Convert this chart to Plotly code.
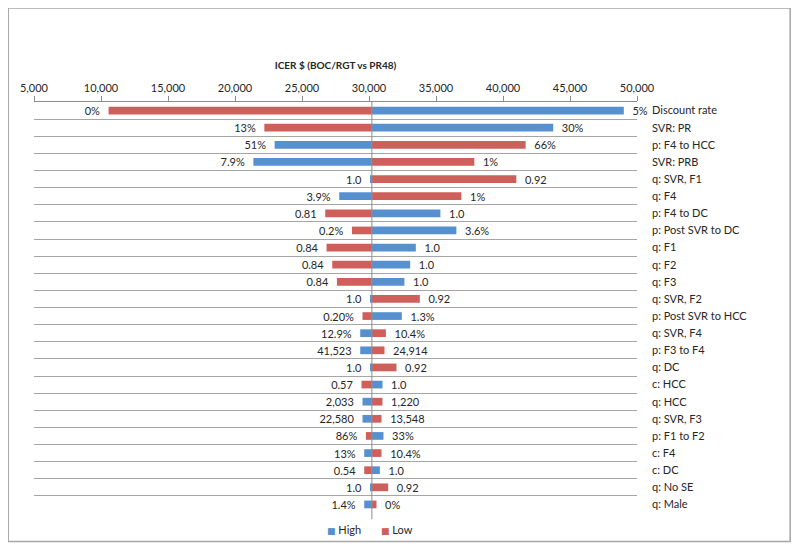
import numpy as np
import plotly.graph_objects as go

# base-case ICER, where the bars start
BASE = 30216

categories = ["Discount rate", "SVR: PR", "p: F4 to HCC", "SVR: PRB", "q: SVR, F1", "q: F4",
              "p: F4 to DC", "p: Post SVR to DC", "q: F1", "q: F2", "q: F3", "q: SVR, F2",
              "p: Post SVR to HCC", "q: SVR, F4", "p: F3 to F4", "q: DC", "c: HCC", "q: HCC",
              "q: SVR, F3", "p: F1 to F2", "c: F4", "c: DC", "q: No SE", "q: Male"]

high_icer = [49016, 43748, 22958, 21371, 30090, 27779, 35328, 36520, 33495, 33070, 32645, 30090,
             32451, 29345, 29345, 30090, 31006, 29516, 29516, 31081, 29643, 30812, 30090, 29643]
low_icer = [10566, 22190, 41690, 37861, 40991, 36893, 26736, 28726, 26833, 27258, 27607, 33793,
            29516, 31259, 31155, 32049, 29441, 31006, 30932, 29769, 30932, 29643, 31431, 30559]

high_labels = ["5%", "30%", "51%", "7.9%", "1.0", "3.9%", "1.0", "3.6%", "1.0", "1.0", "1.0", "1.0",
               "1.3%", "12.9%", "41,523", "1.0", "1.0", "2,033", "22,580", "33%", "13%", "1.0",
               "1.0", "1.4%"]
low_labels = ["0%", "13%", "66%", "1%", "0.92", "1%", "0.81", "0.2%", "0.84", "0.84", "0.84", "0.92",
              "0.20%", "10.4%", "24,914", "0.92", "0.57", "1,220", "13,548", "86%", "10.4%", "0.54",
              "0.92", "0%"]

x_ticks = list(range(5000, 50001, 5000))

BLUE = "#5790cf"
RED = "#cf5f5b"
FONT = dict(family="Lato, 'Open Sans', sans-serif", size=11, color="#262626")

fig = go.Figure()
series = [("High", high_icer, high_labels, BLUE), ("Low", low_icer, low_labels, RED)]
for name, vals, labels, color in series:
    fig.add_trace(go.Bar(
        name=name, y=categories, x=np.array(vals) - BASE, base=BASE, orientation="h",
        marker=dict(color=color, line=dict(width=0)),
        text=labels, texttemplate="\u00a0\u00a0%{text}\u00a0\u00a0", textposition="outside",
        constraintext="none", cliponaxis=False, textfont=FONT,
        showlegend=False, hoverinfo="skip"))

# legend drawn as small squares + names, Excel style
for (name, _, _, color), lx in zip(series, [0.482, 0.572]):
    fig.add_annotation(xref="paper", yref="paper", x=lx, y=-0.04, xanchor="left", yanchor="middle",
                       showarrow=False, font=FONT,
                       text=f"<span style='color:{color};font-family:DejaVu Sans;font-size:9px'>\u25a0</span> {name}")

# axis line at the base value
fig.add_shape(type="line", xref="x", yref="paper", x0=BASE, x1=BASE, y0=-0.015, y1=1,
              line=dict(color="#8c8c8c", width=1))
# chart frame
fig.add_shape(type="rect", xref="paper", yref="paper", x0=-0.0428, x1=1.254, y0=-0.0696, y1=1.2288,
              line=dict(color="#a6a6a6", width=1.5), layer="below")

# page body has an 8px margin, so the figure is a bit smaller than the window
fig.update_layout(
    width=792, height=541,
    margin=dict(l=26, r=163, t=94, b=36),
    paper_bgcolor="white", plot_bgcolor="white",
    barmode="overlay", bargap=0.55,
    font=FONT, showlegend=False,
    xaxis=dict(side="top", range=[5000, 50000], tickvals=x_ticks, tickformat=",d", automargin=False,
               showgrid=False, zeroline=False, showline=True, linecolor="#8c8c8c",
               ticks="outside", ticklen=5, tickcolor="#8c8c8c",
               title=dict(text="<b>ICER $ (BOC/RGT vs PR48)</b>", standoff=9,
                          font=dict(family=FONT["family"], size=10, color=FONT["color"]))),
    yaxis=dict(side="right", categoryorder="array", categoryarray=categories, autorange="reversed",
               tickson="boundaries", showgrid=True, gridcolor="#a6a6a6", gridwidth=1, automargin=False,
               ticks="", showline=False, zeroline=False, ticklabelstandoff=14),
)

fig.write_html("out.html")
